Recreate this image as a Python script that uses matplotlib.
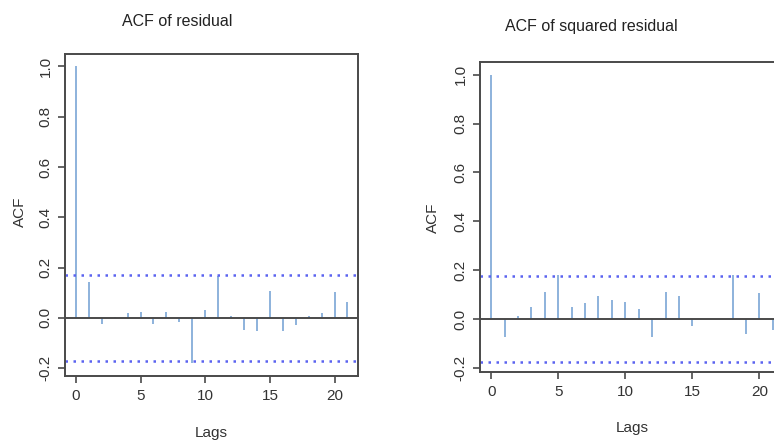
import numpy as np
import matplotlib.pyplot as plt

plt.rcParams['font.family'] = ['Liberation Sans', 'DejaVu Sans']

# ACF values
lags = np.arange(0, 22)
acf_resid = [1.0, 0.141, -0.025, 0.003, 0.021, 0.025, -0.025, 0.025, -0.016, -0.179, 0.031,
             0.166, 0.009, -0.050, -0.053, 0.106, -0.053, -0.029, 0.008, 0.020, 0.104, 0.061]
acf_sq = [1.0, -0.075, 0.014, 0.049, 0.112, 0.178, 0.049, 0.064, 0.092, 0.077, 0.070,
          0.040, -0.075, 0.112, 0.094, -0.029, 0.0, 0.0, 0.180, -0.063, 0.105, -0.046]
ci_resid = 0.171
ci_sq = 0.176
yticks = [-0.2, 0.0, 0.2, 0.4, 0.6, 0.8, 1.0]
xticks = [0, 5, 10, 15, 20]

spike_col = "#7aa6d6"
ci_col = "#5b63f0"
frame_col = "#4a4a4a"
title_font = ['Liberation Sans Narrow', 'Liberation Sans', 'DejaVu Sans']

fig = plt.figure(figsize=(7.74, 4.42), dpi=100)


def acf_panel(rect, vals, ci, ylim):
    ax = fig.add_axes(rect)
    ax.vlines(lags, 0, vals, color=spike_col, lw=1.2)
    ax.axhline(0, color=frame_col, lw=1.4)
    for c in (ci, -ci):
        ax.axhline(c, color=ci_col, lw=1.8, ls=(0, (1, 2.2)))
    ax.set_xlim(-0.84, 21.84)
    ax.set_ylim(*ylim)
    ax.set_xticks(xticks)
    ax.set_yticks(yticks)
    ax.set_yticklabels([f"{v:.1f}" for v in yticks], rotation=90, va="center")
    ax.tick_params(direction="out", length=5, width=1.2, color=frame_col,
                   labelsize=11, labelcolor="#333333", pad=4)
    for s in ax.spines.values():
        s.set_color(frame_col)
        s.set_linewidth(1.4)
    return ax


acf_panel([0.084, 0.149, 0.379, 0.729], acf_resid, ci_resid, (-0.232, 1.05))
acf_panel([0.620, 0.158, 0.393, 0.702], acf_sq, ci_sq, (-0.218, 1.053))

fig.text(177 / 774, 1 - 22 / 442, "ACF of residual", ha="center", va="center",
         fontsize=11.5, family=title_font, color="#222222")
fig.text(591 / 774, 1 - 27 / 442, "ACF of squared residual", ha="center", va="center",
         fontsize=11.5, family=title_font, color="#222222")

fig.text(20 / 774, 1 - 212 / 442, "ACF", rotation=90, ha="center", va="center",
         fontsize=11, color="#333333")
fig.text(433 / 774, 1 - 218 / 442, "ACF", rotation=90, ha="center", va="center",
         fontsize=11, color="#333333")
fig.text(211 / 774, 1 - 433 / 442, "Lags", ha="center", va="center",
         fontsize=11, color="#333333")
fig.text(632 / 774, 1 - 428 / 442, "Lags", ha="center", va="center",
         fontsize=11, color="#333333")

fig.savefig("out.png", dpi=100)
